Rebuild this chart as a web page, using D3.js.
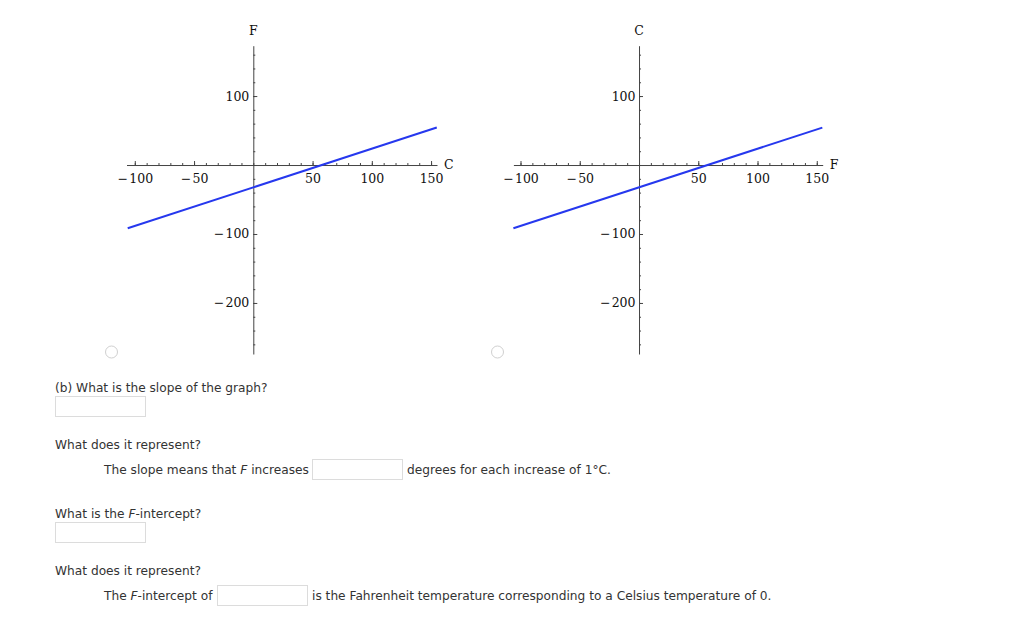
<!DOCTYPE html>
<html>
<head>
<meta charset="utf-8">
<script src="https://cdnjs.cloudflare.com/ajax/libs/d3/7.8.5/d3.min.js"></script>
<style>
    body { margin: 0; background: #fff; }
    .tick text { font-family: "DejaVu Serif", serif; font-size: 12.5px; fill: #111; }
    .axis path, .axis line { stroke: #444; }
    .qtext { font-family: "DejaVu Sans", Verdana, sans-serif; font-size: 12.2px; fill: #333; }
</style>
</head>
<body>
<div id="page"></div>
<script>
/* *******************************************************
   Data
******************************************************* */
// tick values
let xMajorTicks = [-100, -50, 50, 100, 150];
let yMajorTicks = [-200, -100, 100];
let xMinorTicks = d3.range(-100, 151, 10);
let yMinorTicks = d3.range(-260, 161, 20);

// left graph: C across, F up
let leftX = [-106, 154.8];
let leftY = [-91.7, 54.4];

// right graph: F across, C up
let rightX = [-106, 154.7];
let rightY = [-91.7, 54.2];

/* *******************************************************
   svg container
******************************************************* */
let width = 1024;
let height = 620;

let svg = d3.select("#page").append("svg")
    .attr("width", width).attr("height", height);

// minus sign with a small gap, like the original
let fmt = d => d < 0 ? "\u2212\u200A" + Math.abs(d) : String(d);

/* =======================================================
    Draw one graph
======================================================= */
function drawGraph(opts) {
    let xScale = d3.scaleLinear().domain(opts.xDomain).range(opts.xRange);
    let yScale = d3.scaleLinear().domain([-274, 173]).range([354, 45.7]);

    let x0 = xScale(0);
    let y0 = yScale(0);

    // minor ticks
    svg.append("g").attr("class", "axis")
        .attr("transform", `translate(0, ${y0})`)
        .call(d3.axisBottom(xScale).tickValues(xMinorTicks).tickSizeInner(-2).tickSizeOuter(0).tickFormat(""))
        .call(g => g.select(".domain").remove());

    svg.append("g").attr("class", "axis")
        .attr("transform", `translate(${x0}, 0)`)
        .call(d3.axisLeft(yScale).tickValues(yMinorTicks).tickSizeInner(-2).tickSizeOuter(0).tickFormat(""))
        .call(g => g.select(".domain").remove());

    // major ticks + axis lines
    svg.append("g").attr("class", "axis")
        .attr("transform", `translate(0, ${y0})`)
        .call(d3.axisBottom(xScale).tickValues(xMajorTicks).tickSizeInner(-4).tickSizeOuter(0)
            .tickPadding(9).tickFormat(fmt));

    svg.append("g").attr("class", "axis")
        .attr("transform", `translate(${x0}, 0)`)
        .call(d3.axisLeft(yScale).tickValues(yMajorTicks).tickSizeInner(-4).tickSizeOuter(0)
            .tickPadding(opts.yPad).tickFormat(fmt));

    svg.selectAll(".axis text").attr("font-family", null).attr("font-size", null);

    // axis titles
    svg.append("text")
        .attr("x", x0).attr("y", 35)
        .attr("text-anchor", "middle")
        .style("font-family", "DejaVu Serif, serif").style("font-size", "12.5px").style("fill", "#111")
        .text(opts.yLabel);

    svg.append("text")
        .attr("x", xScale(opts.xDomain[1]) + 7).attr("y", y0 + 4)
        .style("font-family", "DejaVu Serif, serif").style("font-size", "12.5px").style("fill", "#111")
        .text(opts.xLabel);

    // the line
    let pts = opts.xs.map((d, i) => [d, opts.ys[i]]);
    let line = d3.line()
        .x(d => xScale(d[0]))
        .y(d => yScale(d[1]));

    svg.append("path")
        .datum(pts)
        .attr("d", line)
        .attr("fill", "none")
        .attr("stroke", "#2638ee")
        .attr("stroke-width", 2);

    // radio button under the graph
    svg.append("circle")
        .attr("cx", opts.radio).attr("cy", 352)
        .attr("r", 6)
        .attr("fill", "#fff")
        .attr("stroke", "#d0d0d0");
}

drawGraph({ xDomain: [-107, 155], xRange: [126.5, 437], xs: leftX, ys: leftY,
    xLabel: "C", yLabel: "F", yPad: 4, radio: 111.5 });
drawGraph({ xDomain: [-106, 155], xRange: [513.4, 822.7], xs: rightX, ys: rightY,
    xLabel: "F", yLabel: "C", yPad: 3.5, radio: 497.5 });

/* =======================================================
    Question text + answer boxes
======================================================= */
function addText(x, y, parts) {
    let t = svg.append("text").attr("class", "qtext").attr("x", x).attr("y", y);
    parts.forEach(p => {
        let s = t.append("tspan").text(p.t);
        if (p.i) s.style("font-style", "italic");
    });
}

function addBox(x, y) {
    svg.append("rect")
        .attr("x", x + 0.5).attr("y", y + 0.5)
        .attr("width", 90).attr("height", 20)
        .attr("fill", "#fff")
        .attr("stroke", "#dcdcdc");
}

addText(55, 392, [{ t: "(b) What is the slope of the graph?" }]);
addBox(55, 396);

addText(55, 449, [{ t: "What does it represent?" }]);
addText(104, 474, [{ t: "The slope means that " }, { t: "F", i: true }, { t: " increases" }]);
addBox(312, 459);
addText(407, 474, [{ t: "degrees for each increase of 1\u00B0C." }]);

addText(55, 518, [{ t: "What is the " }, { t: "F", i: true }, { t: "-intercept?" }]);
addBox(55, 522);

addText(55, 575, [{ t: "What does it represent?" }]);
addText(104, 600, [{ t: "The " }, { t: "F", i: true }, { t: "-intercept of" }]);
addBox(217, 585);
addText(312, 600, [{ t: "is the Fahrenheit temperature corresponding to a Celsius temperature of 0." }]);
</script>
</body>
</html>
